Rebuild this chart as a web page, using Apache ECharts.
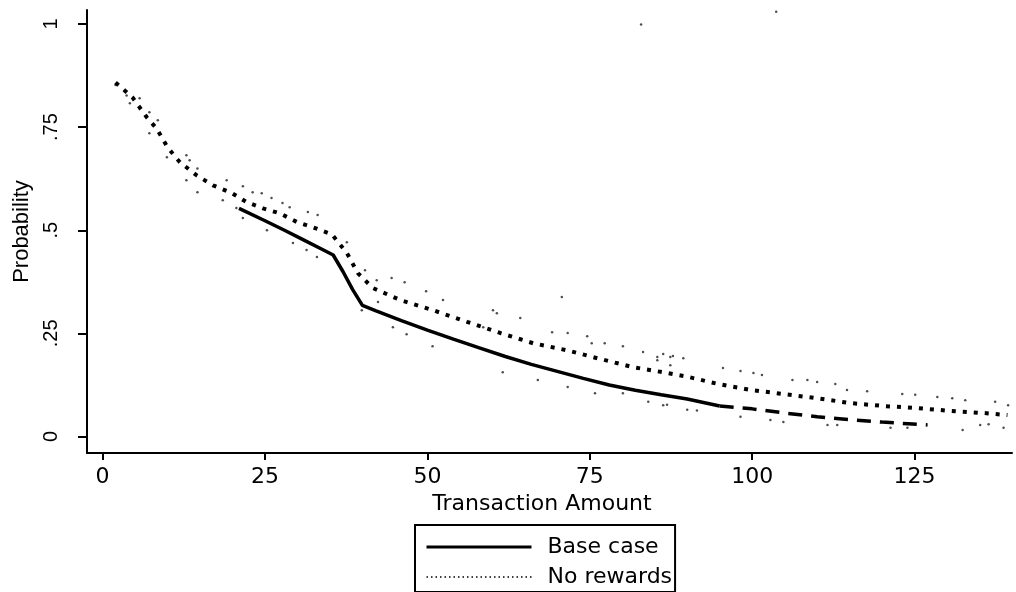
<!DOCTYPE html>
<html>
<head>
<meta charset="utf-8">
<script src="https://cdn.jsdelivr.net/npm/echarts@6/dist/echarts.min.js"></script>
<style>
  html, body { margin: 0; padding: 0; background: #fff; }
  #chart { width: 1016px; height: 592px; }
</style>
</head>
<body>
<div id="chart"></div>
<script>
// tick values and their labels
const xTicks = [0, 25, 50, 75, 100, 125]
const yTicks = [0, 0.25, 0.5, 0.75, 1]
const yTickLabels = ['0', '.25', '.5', '.75', '1']

// Base case, solid part
const baseX = [21, 25, 28, 31, 34, 35.5, 37, 38.5, 40, 42, 46, 50, 54, 58, 62, 66, 70, 74, 78, 82, 86, 90, 95]
const baseY = [.553, .523, .500, .476, .452, .440, .400, .356, .318, .305, .281, .258, .236, .215, .194, .175, .158, .141, .125, .112, .101, .091, .074]
// Base case, broken tail
const tailX = [95, 100, 105, 110, 115, 120, 124, 127]
const tailY = [.074, .067, .057, .048, .041, .035, .031, .028]

// No rewards
const noRewX = [2, 4.6, 6.8, 8.3, 10, 11.9, 14.5, 17, 19.9, 22.2, 24.7, 27.3, 29.9, 32.4, 35.3, 37.6, 39.3, 41.6, 45.8, 50.9, 56.1, 61.2, 66.3, 71.5, 76.6, 81.7, 86.9, 90, 94.6, 99.7, 104.8, 109.9, 115.1, 120.2, 125.4, 130.5, 135.6, 139.3]
const noRewY = [.858, .822, .774, .747, .701, .665, .633, .609, .590, .568, .553, .541, .520, .507, .490, .445, .396, .360, .331, .306, .278, .251, .226, .209, .188, .168, .154, .145, .128, .113, .103, .093, .081, .074, .069, .062, .057, .052]

// faint scattered points around the curves
const dots = [
  [2.0, .852], [3.7, .827], [4.2, .808], [5.7, .820], [7.2, .786], [8.5, .767], [7.2, .735], [9.9, .677],
  [12.9, .682], [13.4, .670], [14.6, .650], [12.9, .621], [14.6, .592], [19.1, .621], [21.6, .607], [23.1, .592],
  [24.5, .590], [26.0, .578], [27.7, .566], [28.8, .556], [31.6, .544], [33.1, .537], [18.5, .573], [20.6, .554],
  [21.6, .530], [25.3, .500], [29.3, .469], [31.4, .452], [33.0, .435], [37.6, .471], [40.4, .403], [42.2, .379],
  [44.5, .384], [46.5, .374], [49.8, .352], [52.4, .331], [42.4, .326], [39.9, .306], [44.7, .265], [46.8, .248],
  [50.8, .219], [60.1, .306], [60.7, .299], [64.3, .287], [70.7, .338], [69.2, .253], [71.6, .251], [74.6, .243],
  [75.3, .226], [77.3, .226], [80.1, .219], [83.2, .205], [85.4, .193], [87.4, .193], [89.4, .190], [61.6, .156],
  [67.0, .137], [71.6, .120], [75.8, .105], [80.1, .105], [84.0, .084], [86.9, .077], [90.0, .065], [91.5, .063],
  [58.6, .265], [86.3, .200], [87.8, .195], [85.4, .185], [87.4, .173], [95.5, .166], [98.2, .159], [100.2, .154],
  [101.5, .149], [106.2, .137], [108.5, .137], [110.0, .132], [112.8, .127], [114.6, .113], [117.7, .110], [123.1, .103],
  [125.1, .101], [128.5, .096], [130.8, .093], [132.8, .088], [137.4, .084], [139.4, .076], [86.3, .076], [98.2, .048],
  [102.8, .040], [104.8, .035], [111.6, .028], [113.1, .028], [121.3, .021], [123.9, .021], [132.4, .016], [135.1, .028],
  [136.4, .030], [138.7, .021], [82.9, .999], [103.7, 1.03]
]

const zip = (xs, ys) => xs.map((x, i) => [x, ys[i]])

const chart = echarts.init(document.getElementById('chart'))
chart.setOption({
  backgroundColor: '#fff',
  animation: false,
  grid: { left: 87, top: 10, right: 4, bottom: 139, outerBoundsMode: 'none', containLabel: false },
  legend: {
    left: 415,
    top: 525,
    orient: 'vertical',
    borderColor: '#000',
    borderWidth: 2,
    borderRadius: 0,
    padding: [10, 3, 3, 10],
    itemWidth: 105,
    itemHeight: 14,
    itemGap: 6,
    textStyle: { fontFamily: 'DejaVu Sans', fontSize: 22, color: '#000', lineHeight: 24, padding: [0, 0, 0, 11] },
    data: [
      { name: 'Base case', itemStyle: { opacity: 0 }, lineStyle: { width: 3, type: 'solid', color: '#000' } },
      { name: 'No rewards', itemStyle: { opacity: 0 }, lineStyle: { width: 1.5, type: [1.5, 3], color: '#000' } }
    ]
  },
  xAxis: {
    type: 'value',
    min: -2.4,
    max: 140,
    name: 'Transaction Amount',
    nameLocation: 'middle',
    nameGap: 34,
    nameTextStyle: { fontFamily: 'DejaVu Sans', fontSize: 22, color: '#000', padding: [0, 15, 0, 0] },
    splitLine: { show: false },
    axisLine: { onZero: false, lineStyle: { color: '#000', width: 2 } },
    axisTick: { customValues: xTicks, length: 7, lineStyle: { color: '#000', width: 2 } },
    axisLabel: { customValues: xTicks, margin: 13, fontFamily: 'DejaVu Sans', fontSize: 22, color: '#000' }
  },
  yAxis: {
    type: 'value',
    min: -0.04,
    max: 1.034,
    name: 'Probability',
    nameLocation: 'middle',
    nameGap: 49,
    nameTextStyle: { fontFamily: 'Liberation Sans', fontSize: 22, color: '#000' },
    splitLine: { show: false },
    axisLine: { show: true, onZero: false, lineStyle: { color: '#000', width: 2 } },
    axisTick: { show: true, customValues: yTicks, length: 9, lineStyle: { color: '#000', width: 2 } },
    axisLabel: {
      customValues: yTicks,
      rotate: 90,
      margin: 26,
      fontFamily: 'Liberation Sans',
      fontSize: 20,
      color: '#000',
      formatter: v => yTickLabels[yTicks.indexOf(v)]
    }
  },
  series: [
    {
      name: 'dots',
      type: 'scatter',
      silent: true,
      symbolSize: 2.5,
      itemStyle: { color: '#222' },
      data: dots
    },
    {
      name: 'Base case',
      type: 'line',
      symbol: 'none',
      itemStyle: { color: '#000' },
      lineStyle: { color: '#000', width: 3.5 },
      data: zip(baseX, baseY)
    },
    {
      name: 'Base case',
      type: 'line',
      symbol: 'none',
      itemStyle: { color: '#000' },
      lineStyle: { color: '#000', width: 3.5, type: [14, 9] },
      data: zip(tailX, tailY)
    },
    {
      name: 'No rewards',
      type: 'line',
      symbol: 'none',
      itemStyle: { color: '#000' },
      lineStyle: { color: '#000', width: 4, type: [4, 7] },
      data: zip(noRewX, noRewY)
    }
  ]
})
</script>
</body>
</html>
